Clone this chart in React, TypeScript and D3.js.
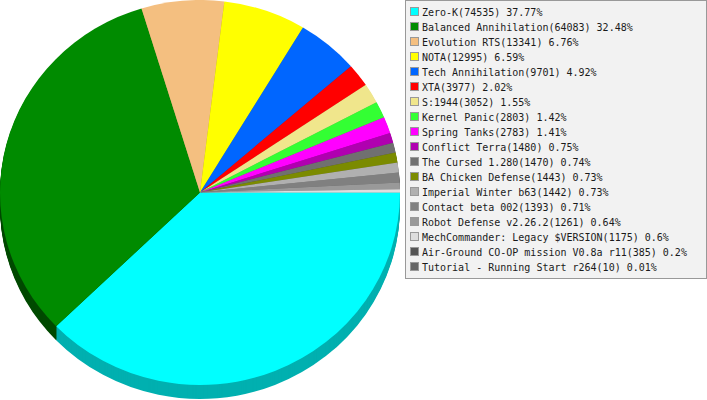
import { useEffect, useRef } from "react";
import * as d3 from "d3";

const names = [
  "Zero-K", "Balanced Annihilation", "Evolution RTS", "NOTA", "Tech Annihilation", "XTA",
  "S:1944", "Kernel Panic", "Spring Tanks", "Conflict Terra", "The Cursed 1.280",
  "BA Chicken Defense", "Imperial Winter b63", "Contact beta 002", "Robot Defense v2.26.2",
  "MechCommander: Legacy $VERSION", "Air-Ground CO-OP mission V0.8a r11", "Tutorial - Running Start r264",
];
const values = [74535, 64083, 13341, 12995, 9701, 3977, 3052, 2803, 2783, 1480, 1470, 1443, 1442, 1393, 1261, 1175, 385, 10];
const percents = ["37.77", "32.48", "6.76", "6.59", "4.92", "2.02", "1.55", "1.42", "1.41", "0.75", "0.74", "0.73", "0.73", "0.71", "0.64", "0.6", "0.2", "0.01"];
const colors = [
  "#00ffff", "#008b00", "#f4bf80", "#ffff00", "#0066ff", "#ff0000", "#f0e68c", "#33ff33", "#ff00ff",
  "#b000b0", "#707070", "#7b8b00", "#b0b0b0", "#808080", "#999999", "#dddddd", "#555555", "#666666",
];
const sideColors = [
  "#00b0b0", "#004a00", "#a88558", "#b0b000", "#0047b0", "#b00000", "#a69f61", "#23b023", "#b000b0",
  "#7a007a", "#4d4d4d", "#555f00", "#7a7a7a", "#585858", "#6a6a6a", "#989898", "#3a3a3a", "#464646",
];

const width = 707;
const height = 400;
const cx = 200;
const cy = 192.5;
const rx = 200;
const ry = 192.5;
const depth = 14;
const rad = Math.PI / 180;

const App = () => {
  const ref = useRef<SVGSVGElement>(null);

  useEffect(() => {
    const svg = d3.select(ref.current);
    svg.selectAll("*").remove();

    const pie = d3.pie<number>().sort(null);

    // the slices go round in whole degrees, so the last ones run out of circle
    let at = 90;
    const arcs = pie(values).map((d) => {
      const size = Math.round((d.endAngle - d.startAngle) / rad);
      const start = Math.min(at, 450);
      at += size;
      return { ...d, startAngle: start * rad, endAngle: Math.min(at, 450) * rad };
    });
    const arc = d3.arc<d3.PieArcDatum<number>>().innerRadius(0).outerRadius(rx);

    // side of the pie, stacked copies going up
    d3.range(depth, 0, -1).forEach((offset) => {
      svg
        .append("g")
        .attr("transform", `translate(${cx},${cy + offset}) scale(1,${ry / rx})`)
        .selectAll("path")
        .data(arcs)
        .enter()
        .append("path")
        .attr("d", arc)
        .attr("fill", (_, i) => sideColors[i]);
    });

    svg
      .append("g")
      .attr("transform", `translate(${cx},${cy}) scale(1,${ry / rx})`)
      .selectAll("path")
      .data(arcs)
      .enter()
      .append("path")
      .attr("d", arc)
      .attr("fill", (_, i) => colors[i]);

    // legend
    const legend = svg.append("g");
    legend
      .append("rect")
      .attr("x", 405.5)
      .attr("y", 0.5)
      .attr("width", 301)
      .attr("height", 278)
      .attr("fill", "#f2f2f2")
      .attr("stroke", "#999999");

    const y = d3.scalePoint<string>().domain(names).range([11.5, 266.5]);

    const rows = legend
      .selectAll("g")
      .data(names)
      .enter()
      .append("g")
      .attr("transform", (d) => `translate(0,${y(d)})`);
    rows
      .append("rect")
      .attr("x", 410.5)
      .attr("y", -4)
      .attr("width", 8)
      .attr("height", 8)
      .attr("fill", (_, i) => colors[i])
      .attr("stroke", "#999999");
    rows
      .append("text")
      .attr("x", 422)
      .attr("y", 4.5)
      .attr("font-family", "'DejaVu Sans Mono', monospace")
      .attr("font-size", 10)
      .attr("fill", "#1a1a1a")
      .text((d, i) => `${d}(${values[i]}) ${percents[i]}%`);
  }, []);

  return (
    <svg
      ref={ref}
      width={width}
      height={height}
      style={{ position: "absolute", left: 0, top: 0, background: "#ffffff" }}
    />
  );
};

export default App;
